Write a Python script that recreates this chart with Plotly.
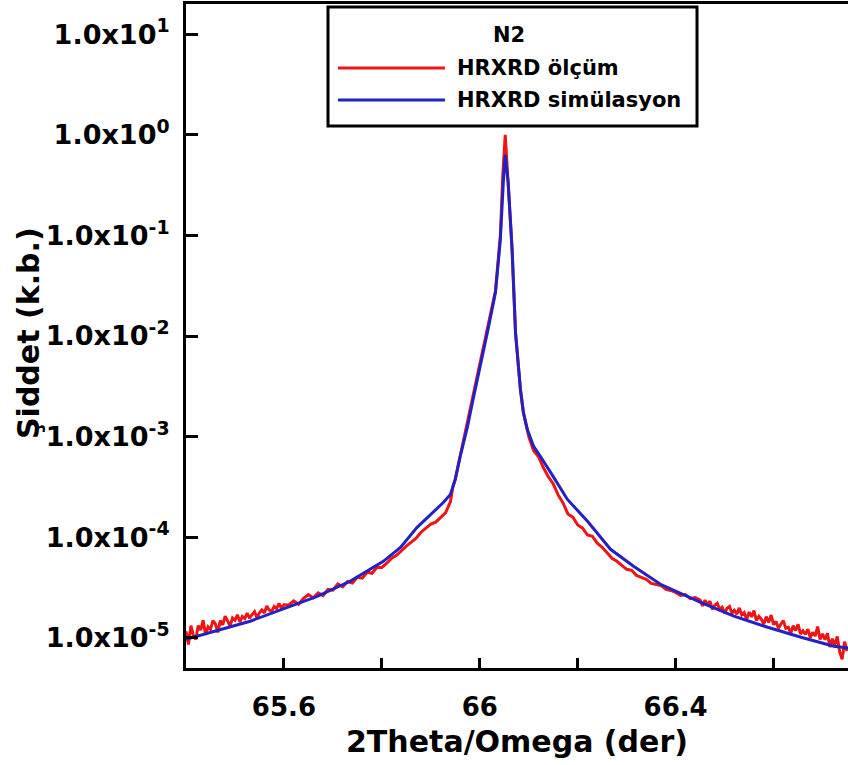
import plotly.graph_objects as go

# HRXRD 2Theta/Omega scan, sample N2: measured vs simulated intensity
x_measured = [
    65.400, 65.405, 65.410, 65.415, 65.420, 65.425, 65.430, 65.435, 65.440, 65.445,
    65.450, 65.455, 65.460, 65.465, 65.470, 65.475, 65.480, 65.485, 65.490, 65.495,
    65.500, 65.505, 65.510, 65.515, 65.520, 65.525, 65.530, 65.535, 65.540, 65.545,
    65.550, 65.555, 65.560, 65.565, 65.570, 65.575, 65.580, 65.585, 65.590, 65.595,
    65.600, 65.61, 65.62, 65.63, 65.64, 65.65, 65.66, 65.67, 65.68, 65.69,
    65.70, 65.71, 65.72, 65.73, 65.74, 65.75, 65.76, 65.77, 65.78, 65.79,
    65.80, 65.81, 65.82, 65.83, 65.84, 65.85, 65.86, 65.87, 65.88, 65.89,
    65.90, 65.91, 65.92, 65.93, 65.94, 65.945, 65.95, 65.96, 65.975, 65.985,
    66.001, 66.018, 66.032, 66.042, 66.047, 66.052, 66.058, 66.066, 66.073, 66.083,
    66.089, 66.097, 66.10, 66.11, 66.12, 66.13, 66.14, 66.15, 66.16, 66.17,
    66.18, 66.19, 66.20, 66.21, 66.22, 66.23, 66.24, 66.25, 66.26, 66.27,
    66.28, 66.29, 66.30, 66.31, 66.32, 66.33, 66.34, 66.35, 66.36, 66.37,
    66.38, 66.39, 66.40, 66.41, 66.42, 66.43, 66.44,
    66.450, 66.455, 66.460, 66.465, 66.470, 66.475, 66.480, 66.485, 66.490, 66.495,
    66.500, 66.505, 66.510, 66.515, 66.520, 66.525, 66.530, 66.535, 66.540, 66.545,
    66.550, 66.555, 66.560, 66.565, 66.570, 66.575, 66.580, 66.585, 66.590, 66.595,
    66.600, 66.605, 66.610, 66.615, 66.620, 66.625, 66.630, 66.635, 66.640, 66.645,
    66.650, 66.655, 66.660, 66.665, 66.670, 66.675, 66.680, 66.685, 66.690, 66.695,
    66.700, 66.705, 66.710, 66.715, 66.720, 66.725, 66.730, 66.735, 66.740, 66.745,
    66.750,
]
y_measured = [
    1.16e-5, 8.55e-6, 1.32e-5, 1.06e-5, 9.60e-6, 1.32e-5, 1.19e-5, 1.49e-5, 1.07e-5, 1.28e-5,
    1.21e-5, 1.48e-5, 1.37e-5, 1.13e-5, 1.48e-5, 1.34e-5, 1.64e-5, 1.45e-5, 1.31e-5, 1.57e-5,
    1.49e-5, 1.69e-5, 1.43e-5, 1.63e-5, 1.55e-5, 1.76e-5, 1.56e-5, 1.70e-5, 1.82e-5, 1.58e-5,
    1.77e-5, 1.89e-5, 1.76e-5, 2.07e-5, 1.88e-5, 1.83e-5, 2.05e-5, 1.95e-5, 2.19e-5, 1.95e-5,
    2.13e-5, 2.12e-5, 2.32e-5, 2.15e-5, 2.46e-5, 2.69e-5, 2.49e-5, 2.79e-5, 2.62e-5, 3.02e-5,
    2.97e-5, 3.43e-5, 3.21e-5, 3.62e-5, 3.49e-5, 4.00e-5, 3.91e-5, 4.48e-5, 4.37e-5, 5.01e-5,
    5.00e-5, 5.50e-5, 6.17e-5, 6.61e-5, 7.41e-5, 8.13e-5, 8.91e-5, 9.77e-5, 1.12e-4, 1.23e-4,
    1.35e-4, 1.41e-4, 1.55e-4, 1.74e-4, 2.24e-4, 3.16e-4, 3.80e-4, 6.46e-4, 1.32e-3, 2.34e-3,
    5.37e-3, 1.32e-2, 2.82e-2, 1.00e-1, 3.98e-1, 1.00, 3.55e-1, 7.24e-2, 1.07e-2, 2.95e-3,
    1.74e-3, 1.17e-3, 1.00e-3, 7.24e-4, 6.31e-4, 4.90e-4, 3.98e-4, 3.39e-4, 2.63e-4, 2.19e-4,
    1.70e-4, 1.58e-4, 1.32e-4, 1.23e-4, 1.05e-4, 1.02e-4, 8.71e-5, 7.94e-5, 7.08e-5, 6.17e-5,
    5.75e-5, 5.25e-5, 4.79e-5, 4.68e-5, 4.17e-5, 3.98e-5, 3.80e-5, 3.47e-5, 3.39e-5, 3.31e-5,
    3.02e-5, 2.95e-5, 2.82e-5, 2.63e-5, 2.69e-5, 2.45e-5, 2.51e-5,
    2.37e-5, 2.07e-5, 2.37e-5, 2.11e-5, 2.31e-5, 1.92e-5, 2.10e-5, 2.20e-5, 1.92e-5, 2.01e-5,
    1.75e-5, 1.96e-5, 2.05e-5, 1.75e-5, 1.87e-5, 1.71e-5, 1.98e-5, 1.69e-5, 1.78e-5, 1.52e-5,
    1.80e-5, 1.61e-5, 1.86e-5, 1.48e-5, 1.63e-5, 1.53e-5, 1.37e-5, 1.62e-5, 1.42e-5, 1.68e-5,
    1.35e-5, 1.45e-5, 1.24e-5, 1.37e-5, 1.48e-5, 1.24e-5, 1.27e-5, 1.11e-5, 1.32e-5, 1.18e-5,
    1.36e-5, 1.09e-5, 1.17e-5, 1.08e-5, 1.22e-5, 1.00e-5, 1.13e-5, 1.04e-5, 1.29e-5, 9.62e-6,
    1.09e-5, 9.55e-6, 1.11e-5, 8.07e-6, 9.77e-6, 8.41e-6, 1.03e-5, 7.21e-6, 6.10e-6, 9.14e-6,
    7.38e-6,
]

x_simulated = [
    65.400, 65.531, 65.668, 65.735, 65.803, 65.838, 65.872, 65.899, 65.926, 65.940,
    65.950, 65.960, 65.975, 65.985, 66.001, 66.018, 66.032, 66.042, 66.048, 66.052,
    66.058, 66.066, 66.073, 66.083, 66.089, 66.097, 66.110, 66.124, 66.151, 66.179,
    66.220, 66.267, 66.314, 66.369, 66.451, 66.519, 66.588, 66.656, 66.723, 66.754,
]
y_simulated = [
    9.66e-6, 1.46e-5, 2.58e-5, 3.64e-5, 5.75e-5, 7.92e-5, 1.25e-4, 1.68e-4, 2.22e-4, 2.66e-4,
    3.75e-4, 6.34e-4, 1.26e-3, 2.18e-3, 4.97e-3, 1.24e-2, 2.70e-2, 9.06e-2, 3.33e-1, 6.32e-1,
    3.33e-1, 7.21e-2, 1.08e-2, 2.94e-3, 1.74e-3, 1.18e-3, 7.98e-4, 6.34e-4, 3.93e-4, 2.37e-4,
    1.44e-4, 7.57e-5, 5.13e-5, 3.40e-5, 2.25e-5, 1.64e-5, 1.27e-5, 1.01e-5, 8.24e-6, 7.87e-6,
]

x_ticks = [65.6, 65.8, 66.0, 66.2, 66.4, 66.6]
x_tick_labels = ["65.6", "", "66", "", "66.4", ""]
y_ticks = [1e1, 1e0, 1e-1, 1e-2, 1e-3, 1e-4, 1e-5]
y_tick_labels = ["1.0x10<sup>1</sup>", "1.0x10<sup>0</sup>", "1.0x10<sup>-1</sup>",
                 "1.0x10<sup>-2</sup>", "1.0x10<sup>-3</sup>", "1.0x10<sup>-4</sup>",
                 "1.0x10<sup>-5</sup>"]

legend_title = "N2"
series_names = ["HRXRD ölçüm", "HRXRD simülasyon"]
series_colors = ["#ee1515", "#2222c4"]

FONT = "DejaVu Sans"

fig = go.Figure()
fig.add_trace(go.Scatter(x=x_measured, y=y_measured, mode="lines", name=series_names[0],
                         line=dict(color=series_colors[0], width=3)))
fig.add_trace(go.Scatter(x=x_simulated, y=y_simulated, mode="lines", name=series_names[1],
                         line=dict(color=series_colors[1], width=3)))

fig.update_layout(
    width=848, height=765,
    margin=dict(l=186, r=0, t=4, b=97),
    paper_bgcolor="white", plot_bgcolor="white",
    showlegend=False,
    font=dict(family=FONT, color="black"),
)
fig.update_xaxes(
    range=[65.4, 66.752],
    tickmode="array", tickvals=x_ticks, ticktext=x_tick_labels,
    ticks="inside", ticklen=10, tickwidth=2.5, tickcolor="black",
    showline=True, linecolor="black", linewidth=3, mirror=True,
    showgrid=False, zeroline=False,
    tickfont=dict(family=FONT, size=26, color="black", weight="bold"),
    ticklabelstandoff=14,
)
fig.update_yaxes(
    type="log", range=[-5.301, 1.301],
    tickmode="array", tickvals=y_ticks, ticktext=y_tick_labels,
    ticks="inside", ticklen=12, tickwidth=2.5, tickcolor="black",
    showline=True, linecolor="black", linewidth=3, mirror=False,
    showgrid=False, zeroline=False,
    tickfont=dict(family=FONT, size=27, color="black", weight="bold"),
    ticklabelstandoff=8,
)

# Axis titles
fig.add_annotation(text="2Theta/Omega (der)", xref="paper", yref="paper",
                   x=0.5, y=-0.11, xanchor="center", yanchor="middle", showarrow=False,
                   font=dict(family=FONT, size=30, color="black", weight="bold"))
fig.add_annotation(text="Şiddet (k.b.)", xref="paper", yref="paper",
                   x=-0.2387, y=0.5045, xanchor="center", yanchor="middle", showarrow=False,
                   textangle=-90,
                   font=dict(family=FONT, size=30, color="black", weight="bold"))

# Boxed legend with long line samples
fig.add_shape(type="rect", xref="paper", yref="paper",
              x0=0.2145, x1=0.7719, y0=0.8163, y1=0.9955,
              line=dict(color="black", width=3), fillcolor="white", layer="above")
fig.add_annotation(text=legend_title, xref="paper", yref="paper",
                   x=0.4879, y=0.9533, xanchor="center", yanchor="middle", showarrow=False,
                   font=dict(family=FONT, size=21, color="black", weight="bold"))
for name, color, yy in zip(series_names, series_colors, [0.9036, 0.8554]):
    fig.add_shape(type="line", xref="paper", yref="paper",
                  x0=0.2296, x1=0.3912, y0=yy, y1=yy,
                  line=dict(color=color, width=3), layer="above")
    fig.add_annotation(text=name, xref="paper", yref="paper",
                       x=0.4063, y=yy, xanchor="left", yanchor="middle", showarrow=False,
                       font=dict(family=FONT, size=21, color="black", weight="bold"))

fig.write_html("out.html")
